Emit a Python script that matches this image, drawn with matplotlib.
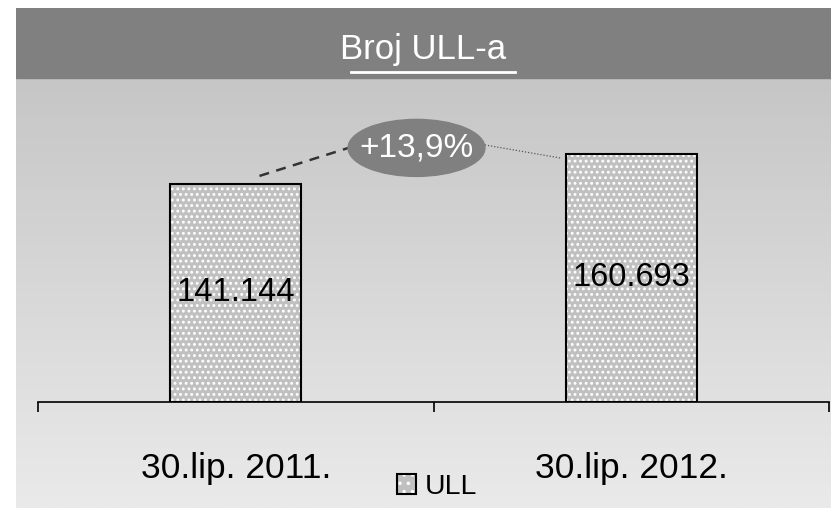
import numpy as np
import matplotlib
matplotlib.use("Agg")
import matplotlib.pyplot as plt
from matplotlib.patches import Ellipse, Patch
from matplotlib.legend_handler import HandlerTuple

categories = ["30.lip. 2011.", "30.lip. 2012."]
values = [141144, 160693]
value_labels = ["141.144", "160.693"]
growth_label = "+13,9%"
series_name = "ULL"
title = "Broj ULL-a"

plt.rcParams["font.family"] = ["Liberation Sans", "DejaVu Sans"]
plt.rcParams["hatch.linewidth"] = 1.3

fig = plt.figure(figsize=(8.31, 5.09), dpi=100)

# background panel with vertical gradient + dark header band
bg = fig.add_axes([16 / 831, 1 - 508 / 509, 815 / 831, 500 / 509])
grad = np.linspace(0, 1, 256).reshape(-1, 1)
bg.imshow(grad, aspect="auto", cmap=matplotlib.colors.LinearSegmentedColormap.from_list(
    "g", ["#eaeaea", "#c0c0c0"]), origin="lower", extent=[0, 1, 0, 1])
bg.axhspan(1 - 70 / 500, 1, color="#808080")
bg.set_xlim(0, 1); bg.set_ylim(0, 1); bg.axis("off")
bg.text(0.5, 1 - 41 / 500, title, ha="center", va="center", color="white",
        fontsize=25, transform=bg.transAxes)
bg.plot([335 / 815, 499 / 815], [1 - 64 / 500] * 2, color="white", lw=2,
        transform=bg.transAxes)

ax = fig.add_axes([38 / 831, 1 - 402 / 509, 791 / 831, 302 / 509])
ax.patch.set_alpha(0)
x = np.arange(len(categories))
ax.bar(x, values, width=0.33, color="#c0c0c0", edgecolor="white", hatch="...", lw=0, zorder=2)
ax.bar(x, values, width=0.33, facecolor="none", edgecolor="black", lw=1.5, zorder=3)
for xi, v, lab in zip(x, values, value_labels):
    ax.text(xi, v / 2, lab, ha="center", va="center", fontsize=23.5, zorder=4)

ax.set_xlim(-0.5, 1.5)
ax.set_ylim(0, 195500)
for s in ["top", "right", "left"]:
    ax.spines[s].set_visible(False)
ax.spines["bottom"].set_linewidth(1.2)
ax.set_yticks([])
ax.set_xticks([-0.5, 0.5, 1.5])
ax.set_xticklabels([])
ax.tick_params(axis="x", which="major", direction="out", length=7.5, width=1.2)
ax.set_xticks(x, categories, minor=True)
ax.tick_params(axis="x", which="minor", length=0, pad=36, labelsize=25.5)

# growth bubble with connectors
v1, v2 = values
ecy = v2 + 3800
ax.plot([0.06, 0.285], [v1 + 5200, ecy], ls=(0, (4, 3)), color="#333333", lw=1.8)
ax.plot([0.63, 0.82], [v2 + 5700, v2 - 2700], ls=(0, (1, 1.5)), color="#555555", lw=0.9)
ax.add_patch(Ellipse((0.457, ecy), 0.346, 36900, color="#808080", zorder=5, clip_on=False))
ax.text(0.457, ecy, growth_label, ha="center", va="center", color="white",
        fontsize=24, zorder=6)

h1 = Patch(facecolor="#c0c0c0", edgecolor="white", hatch="..", lw=0)
h2 = Patch(facecolor="none", edgecolor="black", lw=1.5)
fig.legend(handles=[(h1, h2)], labels=[series_name], handler_map={tuple: HandlerTuple(ndivide=1)},
           loc="center", bbox_to_anchor=(437 / 831, 1 - 487 / 509), frameon=False,
           fontsize=20.5, handlelength=0.65, handleheight=0.65, handletextpad=0.3)

fig.savefig("out.png", dpi=100)
